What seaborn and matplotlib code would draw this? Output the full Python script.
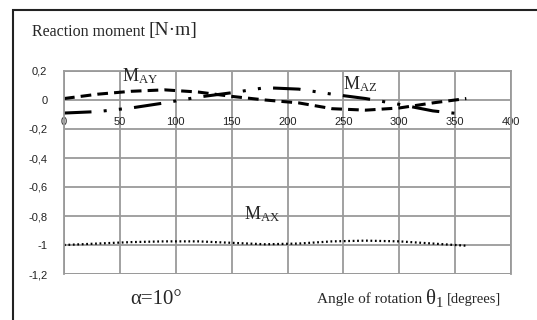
import matplotlib
matplotlib.use("Agg")
import matplotlib.pyplot as plt
import seaborn as sns
import pandas as pd
from matplotlib.ticker import FuncFormatter, MultipleLocator
from matplotlib.patches import Rectangle

sns.set_style("white")
plt.rcParams['font.family'] = ['Liberation Sans', 'DejaVu Sans']
plt.rcParams['mathtext.fontset'] = 'custom'
plt.rcParams['mathtext.rm'] = 'Liberation Serif'
plt.rcParams['mathtext.it'] = 'Liberation Serif:italic'

theta = [0, 30, 60, 90, 120, 150, 180, 210, 240, 270, 300, 330, 360]
m_ay = [0.01, 0.04, 0.06, 0.07, 0.055, 0.025, 0.0, -0.02, -0.06, -0.07, -0.055, -0.02, 0.01]
m_az = [-0.09, -0.08, -0.055, -0.02, 0.02, 0.05, 0.085, 0.075, 0.04, 0.01, -0.03, -0.075, -0.1]
m_ax = [-1.0, -0.99, -0.98, -0.975, -0.975, -0.985, -0.995, -0.99, -0.975, -0.97, -0.975, -0.99, -1.005]

df = pd.DataFrame({"theta": theta, "MAY": m_ay, "MAZ": m_az, "MAX": m_ax})

fig = plt.figure(figsize=(5.37, 3.2), dpi=100)
ax = fig.add_axes([64/537, 1-274/320, (511-64)/537, (274-71)/320])

sns.lineplot(data=df, x="theta", y="MAY", ax=ax, color="black", lw=2.2,
             linestyle=(0, (3.5, 2)))
sns.lineplot(data=df, x="theta", y="MAZ", ax=ax, color="black", lw=2.2,
             linestyle=(0, (9, 4, 1, 4, 1, 4)))
sns.lineplot(data=df, x="theta", y="MAX", ax=ax, color="black", lw=1.6,
             linestyle=(0, (0.8, 1.2)))

ax.set_xlim(0, 400)
ax.set_ylim(-1.2, 0.2)
ax.xaxis.set_major_locator(MultipleLocator(50))
ax.yaxis.set_major_locator(MultipleLocator(0.2))
fmt = FuncFormatter(lambda v, p: ("%g" % round(v, 1)).replace(".", ",") if abs(v) > 1e-9 else "0")
ax.yaxis.set_major_formatter(fmt)
ax.xaxis.set_major_formatter(FuncFormatter(lambda v, p: "%d" % v))
ax.grid(True, color="#9a9a9a", lw=1.3)
for s in ax.spines.values():
    s.set_color("#9a9a9a")
    s.set_linewidth(1.3)
ax.set_xlabel("")
ax.set_ylabel("")
ax.spines['bottom'].set_position(('data', 0))
ax.spines['bottom'].set_visible(False)
ax.tick_params(axis='x', length=0, pad=12, labelsize=8, colors="#222222")
ax.tick_params(axis='y', length=0, pad=12, labelsize=8, colors="#222222")
ax.set_axisbelow(True)
ax.axhline(-1.2, color="#9a9a9a", lw=1.3, zorder=0)

ax.text(68, 0.165, r"$\mathrm{M_{AY}}$", fontsize=13, ha="center", va="center")
ax.text(265, 0.11, r"$\mathrm{M_{AZ}}$", fontsize=13, ha="center", va="center")
ax.text(177, -0.785, r"$\mathrm{M_{AX}}$", fontsize=13, ha="center", va="center")

fig.text(32/537, 1-32/320, "Reaction moment", fontsize=11.5, family="Liberation Serif",
         va="center", ha="left")
fig.text(149/537, 1-31/320, "[N·m]", fontsize=14, family="Liberation Serif",
         va="center", ha="left")
fig.text(130/537, 1-299/320, "α=10°", fontsize=15, family="Liberation Serif",
         va="center", ha="left")
fig.text(317/537, 1-299/320, "Angle of rotation", fontsize=11, family="Liberation Serif",
         va="center", ha="left")
fig.text(425/537, 1-298/320, r"$\mathrm{\theta_1}$", fontsize=15, va="center", ha="left")
fig.text(447/537, 1-299/320, "[degrees]", fontsize=10.5, family="Liberation Serif",
         va="center", ha="left")

fig.add_artist(Rectangle((12.5/537, -0.1), 1.2, 1-10/320+0.1, transform=fig.transFigure,
                         fill=False, edgecolor="#222222", lw=1.5))

fig.savefig("out.png", dpi=100)
